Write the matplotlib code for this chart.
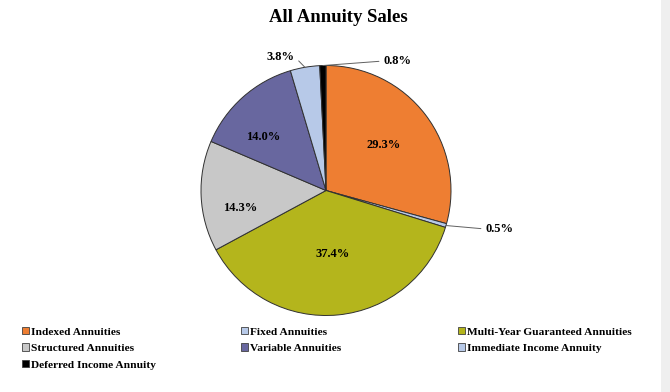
import numpy as np
import matplotlib
matplotlib.use("Agg")
import matplotlib.pyplot as plt
from matplotlib.patches import Patch, Rectangle

categories = ["Indexed Annuities", "Fixed Annuities", "Multi-Year Guaranteed Annuities",
              "Structured Annuities", "Variable Annuities", "Immediate Income Annuity",
              "Deferred Income Annuity"]
values = [29.3, 0.5, 37.4, 14.3, 14.0, 3.8, 0.8]
colors = ["#EE7E32", "#B7C9E8", "#B4B51C", "#C8C8C8", "#68679F", "#B7C9E8", "#000000"]
title = "All Annuity Sales"

# label layout: inside -> (radius fraction, angle tweak deg); outer -> (angle deg, radius)
inside_layout = {0: (0.587, 1.1), 2: (0.51, 0.0), 3: (0.70, 8.6), 4: (0.66, 8.3)}
outer_layout = {1: (-13.6, 1.309), 5: (103.1, 1.096), 6: (66.2, 1.132)}

plt.rcParams['font.family'] = ['Liberation Serif', 'DejaVu Serif']
W, H = 670, 392
fig = plt.figure(figsize=(W / 100, H / 100), dpi=100)
fig.patches.append(Rectangle((661 / W, 0), 1 - 661 / W, 1, transform=fig.transFigure,
                             facecolor="#EFEFEF", edgecolor="none", zorder=-1))

cx, cy, R = 326, 392 - 190.5, 125
ax = fig.add_axes([(cx - R) / W, (cy - R) / H, 2 * R / W, 2 * R / H])

wedges, _ = ax.pie(values, colors=colors, startangle=90, counterclock=False, radius=1.0,
                   wedgeprops=dict(edgecolor="#303030", linewidth=0.7))
ax.set_xlim(-1, 1)
ax.set_ylim(-1, 1)
ax.set_aspect("equal")
ax.axis("off")

fs = 9
for i, w in enumerate(wedges):
    mid = np.deg2rad((w.theta1 + w.theta2) / 2)
    label = f"{values[i]:.1f}%"
    if i in inside_layout:
        r, tw = inside_layout[i]
        a = mid + np.deg2rad(tw)
        ax.text(r * np.cos(a), r * np.sin(a), label, ha="center", va="center",
                fontsize=fs, fontweight="bold")
    else:
        ang, r = outer_layout[i]
        a = np.deg2rad(ang)
        tx, ty = r * np.cos(a), r * np.sin(a)
        ex, ey = np.cos(mid), np.sin(mid)
        ha = "right" if tx < ex else "left"
        relx = 1.0 if ha == "right" else 0.0
        ax.annotate(label, xy=(ex, ey), xytext=(tx, ty), ha=ha, va="center",
                    fontsize=fs, fontweight="bold",
                    arrowprops=dict(arrowstyle="-", color="#606060", lw=0.7,
                                    shrinkA=1, shrinkB=0, relpos=(relx, 0.5)))

fig.text(338 / W, 1 - 17 / H, title, ha="center", va="center", fontsize=13.5, fontweight="bold")

handles = [Patch(facecolor=c, edgecolor="#404040", linewidth=0.6) for c in colors]
cols = [[0, 3, 6], [1, 4], [2, 5]]
col_x = [22, 241, 458]
for xs, idxs in zip(col_x, cols):
    fig.legend([handles[i] for i in idxs], [categories[i] for i in idxs],
               loc="upper left", bbox_to_anchor=(xs / W, 1 - 327 / H), frameon=False,
               prop=dict(weight="bold", size=8.2), handlelength=0.6, handleheight=0.6,
               handletextpad=0.2, labelspacing=0.6, borderpad=0, borderaxespad=0)

fig.savefig("out.png", dpi=100)
